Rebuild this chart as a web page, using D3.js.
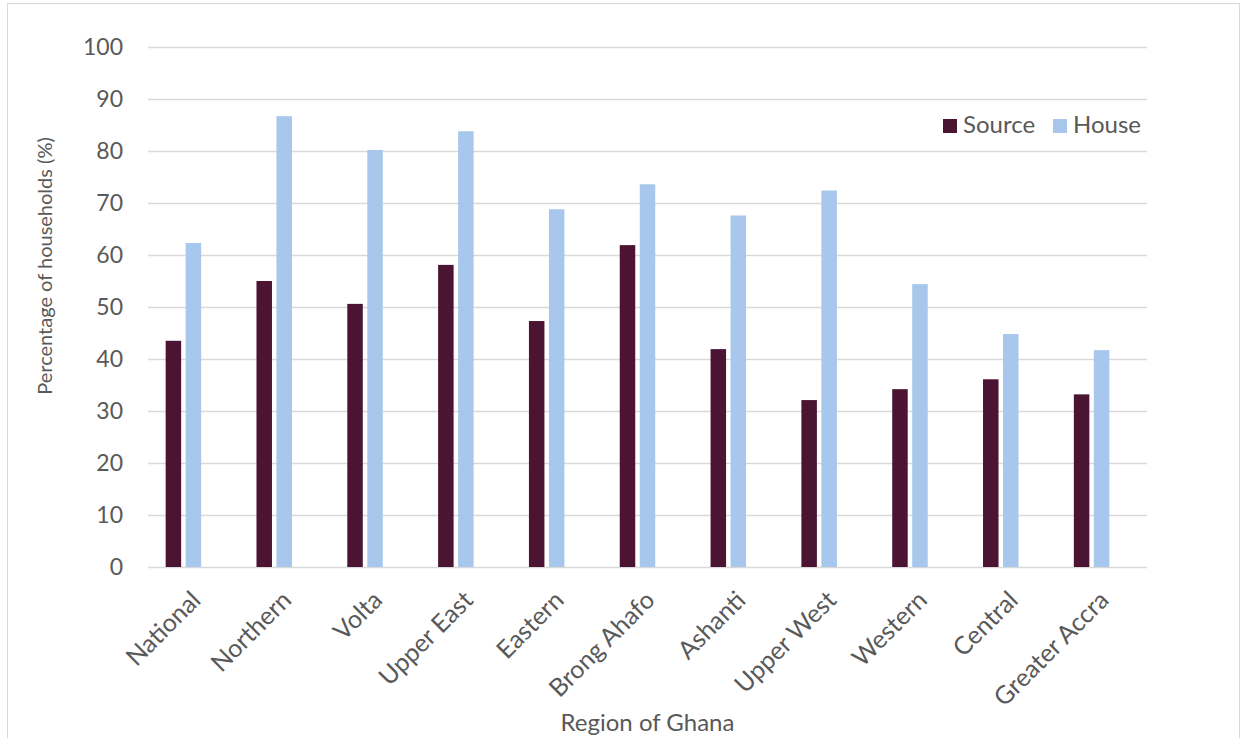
<!DOCTYPE html>
<html>
<head>
<meta charset="utf-8">
<script src="https://cdn.jsdelivr.net/npm/d3@7"></script>
<style>
  body { margin: 0; background: #fff; }
  svg { display: block; font-family: Lato, "Open Sans", sans-serif; }
</style>
</head>
<body>
<div id="chart"></div>
<script>
const regions = ["National", "Northern", "Volta", "Upper East", "Eastern", "Brong Ahafo",
  "Ashanti", "Upper West", "Western", "Central", "Greater Accra"];
const seriesNames = ["Source", "House"];
const sourceValues = [43.5, 55.0, 50.6, 58.1, 47.3, 61.9, 41.9, 32.1, 34.2, 36.1, 33.2];
const houseValues = [62.3, 86.7, 80.2, 83.8, 68.8, 73.6, 67.6, 72.4, 54.4, 44.8, 41.7];
const yTicks = [0, 10, 20, 30, 40, 50, 60, 70, 80, 90, 100];
const colors = ["#4c1433", "#a7c7ec"];

const width = 1244, height = 738;
const plot = { left: 148, right: 1147, top: 47, bottom: 567 };

const rows = regions.map((r, i) => ({ region: r, Source: sourceValues[i], House: houseValues[i] }));

const svg = d3.select("#chart").append("svg")
  .attr("width", width)
  .attr("height", height);

// outer chart border
svg.append("rect")
  .attr("x", 7.5).attr("y", 3.5)
  .attr("width", 1232).attr("height", 750)
  .attr("fill", "none")
  .attr("stroke", "#d9d9d9");

const y = d3.scaleLinear().domain([0, 100]).range([plot.bottom, plot.top]);

// bars sit a little left of the gridline span, as in the original
const x0 = d3.scaleBand().domain(regions).range([plot.left - 10, plot.right - 10]);
const x1 = d3.scaleBand().domain(seriesNames)
  .range([x0.bandwidth() / 2 - 17.75, x0.bandwidth() / 2 + 17.75])
  .paddingInner(0.225);

// gridlines
svg.append("g")
  .selectAll("line")
  .data(yTicks)
  .join("line")
  .attr("x1", plot.left).attr("x2", plot.right)
  .attr("y1", d => Math.round(y(d)) + 0.5)
  .attr("y2", d => Math.round(y(d)) + 0.5)
  .attr("stroke", "#d9d9d9")
  .attr("stroke-width", 1.5);

// y tick labels
svg.append("g")
  .selectAll("text")
  .data(yTicks)
  .join("text")
  .attr("x", 123)
  .attr("y", d => y(d))
  .attr("dy", "0.36em")
  .attr("text-anchor", "end")
  .attr("fill", "#595959")
  .attr("font-size", 23)
  .text(d => d);

// bars
svg.append("g")
  .selectAll("g")
  .data(rows)
  .join("g")
  .attr("transform", d => `translate(${x0(d.region)},0)`)
  .selectAll("rect")
  .data(d => seriesNames.map((s, i) => ({ key: s, value: d[s], color: colors[i] })))
  .join("rect")
  .attr("x", d => x1(d.key))
  .attr("width", x1.bandwidth())
  .attr("y", d => y(d.value))
  .attr("height", d => y(0) - y(d.value))
  .attr("fill", d => d.color);

// category labels
svg.append("g")
  .selectAll("text")
  .data(regions)
  .join("text")
  .attr("transform", d => `translate(${x0(d) + x0.bandwidth() / 2 + 6},${plot.bottom + 22}) rotate(-45)`)
  .attr("text-anchor", "end")
  .attr("dy", "0.72em")
  .attr("fill", "#595959")
  .attr("font-size", 25)
  .text(d => d);

// axis titles
svg.append("text")
  .attr("transform", `translate(52,${266}) rotate(-90)`)
  .attr("text-anchor", "middle")
  .attr("fill", "#595959")
  .attr("font-size", 20)
  .text("Percentage of households (%)");

svg.append("text")
  .attr("x", (plot.left + plot.right) / 2)
  .attr("y", 731)
  .attr("text-anchor", "middle")
  .attr("fill", "#595959")
  .attr("font-size", 24)
  .text("Region of Ghana");

// legend
const legend = svg.append("g").attr("transform", "translate(943,119)");
const legendX = [0, 110];
seriesNames.forEach((s, i) => {
  const g = legend.append("g").attr("transform", `translate(${legendX[i]},0)`);
  g.append("rect").attr("width", 14).attr("height", 14).attr("fill", colors[i]);
  g.append("text")
    .attr("x", 20).attr("y", 14)
    .attr("fill", "#595959")
    .attr("font-size", 24)
    .text(s);
});
</script>
</body>
</html>
